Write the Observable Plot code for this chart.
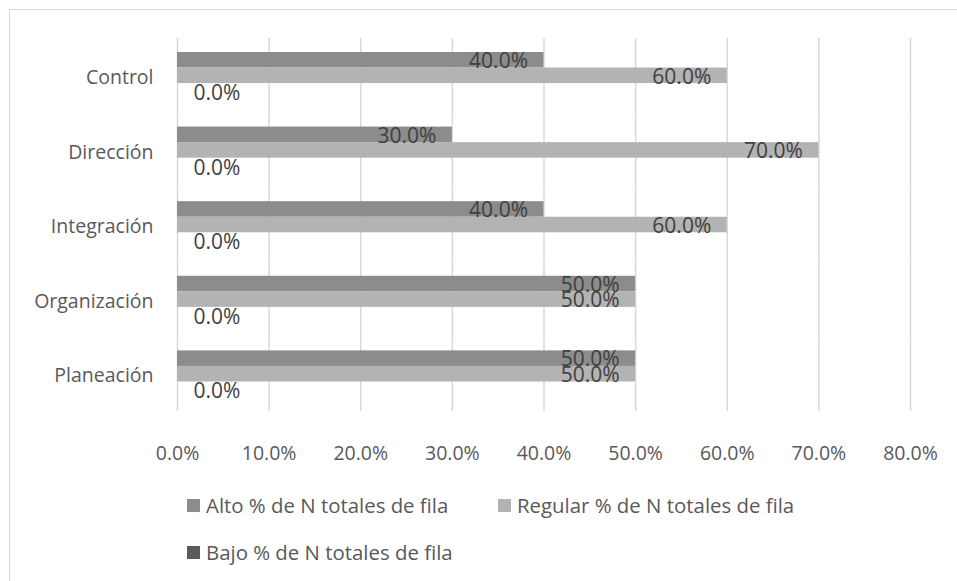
<!DOCTYPE html>
<html>
<head>
<meta charset="utf-8">
<script src="https://cdn.jsdelivr.net/npm/d3@7"></script>
<script src="https://cdn.jsdelivr.net/npm/@observablehq/plot@0.6"></script>
<style>
  html, body { margin: 0; padding: 0; background: #fff; }
  #wrap { position: relative; width: 957px; height: 581px; overflow: hidden; font-family: "Open Sans", sans-serif; }
  #frame { position: absolute; left: 9px; top: 9px; width: 960px; height: 600px; border-left: 1.5px solid #d9d9d9; border-top: 1.5px solid #d9d9d9; }
  #chart { position: absolute; left: 0; top: 0; }
  .leg { position: absolute; display: flex; align-items: center; height: 28px; font-size: 20.4px; color: #595959; white-space: nowrap; }
  .sw { width: 13px; height: 13px; margin-right: 6px; }
</style>
</head>
<body>
<div id="wrap">
  <div id="frame"></div>
  <div id="chart"></div>
  <div id="legend"></div>
</div>
<script>
const categories = ["Control", "Dirección", "Integración", "Organización", "Planeación"];
const seriesNames = ["Alto % de N totales de fila", "Regular % de N totales de fila", "Bajo % de N totales de fila"];
const alto = [0.40, 0.30, 0.40, 0.50, 0.50];
const regular = [0.60, 0.70, 0.60, 0.50, 0.50];
const bajo = [0.0, 0.0, 0.0, 0.0, 0.0];
const xTicks = [0, 0.1, 0.2, 0.3, 0.4, 0.5, 0.6, 0.7, 0.8];
const colors = ["#8c8c8c", "#b3b3b3", "#5b5b5b"];

const seriesValues = [alto, regular, bajo];
const rows = [];
categories.forEach((c, i) => {
  seriesNames.forEach((s, j) => rows.push({cat: c, series: s, value: seriesValues[j][i]}));
});
const fmt = d3.format(".1%");

const chart = Plot.plot({
  width: 957,
  height: 480,
  marginLeft: 177,
  marginRight: 47,
  marginTop: 38,
  marginBottom: 69,
  style: {fontFamily: "Open Sans, sans-serif", fontSize: "19.5px", color: "#595959", background: "transparent", overflow: "visible"},
  x: {domain: [0, 0.8]},
  y: {domain: seriesNames, paddingInner: 0, paddingOuter: 0.9, round: false, axis: null},
  fy: {domain: categories, padding: 0, round: false, label: null, axis: null},
  color: {domain: seriesNames, range: colors},
  marks: [
    Plot.gridX(xTicks, {stroke: "#d9d9d9", strokeOpacity: 1, strokeWidth: 1.5}),
    Plot.barX(rows, {x: "value", y: "series", fy: "cat", fill: "series"}),
    Plot.text(rows.filter(d => d.value > 0), {x: "value", y: "series", fy: "cat", text: d => fmt(d.value), textAnchor: "end", dx: -16, dy: 1, fill: "#404040", fontSize: 21}),
    Plot.text(rows.filter(d => d.value === 0), {x: "value", y: "series", fy: "cat", text: d => fmt(d.value), textAnchor: "start", dx: 16, dy: 2, fill: "#404040", fontSize: 21}),
    Plot.axisX({ticks: xTicks, tickFormat: fmt, tickSize: 0, tickPadding: 35, label: null}),
    Plot.axisFy({anchor: "left", tickSize: 0, tickPadding: 24, label: null, dy: 2})
  ]
});
document.getElementById("chart").appendChild(chart);

const legendPos = [[187, 491], [498, 491], [187, 538]];
const leg = document.getElementById("legend");
seriesNames.forEach((s, j) => {
  const d = document.createElement("div");
  d.className = "leg";
  d.style.left = legendPos[j][0] + "px";
  d.style.top = legendPos[j][1] + "px";
  const sw = document.createElement("div");
  sw.className = "sw";
  sw.style.background = colors[j];
  const t = document.createElement("span");
  t.textContent = s;
  d.appendChild(sw); d.appendChild(t);
  leg.appendChild(d);
});
</script>
</body>
</html>
